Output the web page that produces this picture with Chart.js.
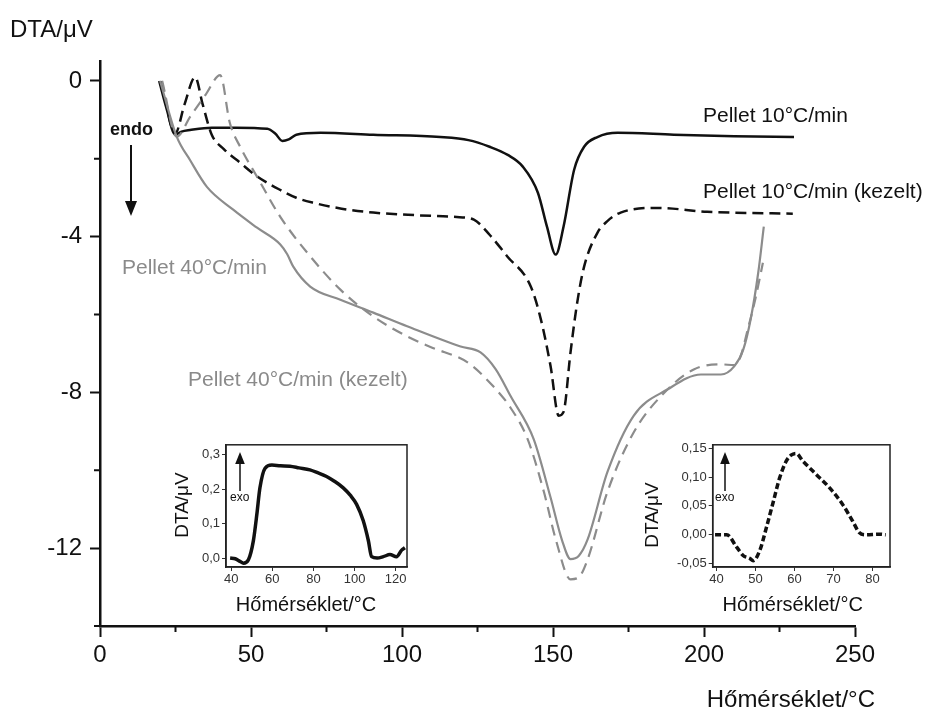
<!DOCTYPE html>
<html>
<head>
<meta charset="utf-8">
<script src="https://cdn.jsdelivr.net/npm/chart.js@4.4.1/dist/chart.umd.min.js"></script>
<style>
  body { margin: 0; background: #fff; }
  #wrap { position: relative; width: 941px; height: 713px; }
  canvas { position: absolute; }
</style>
</head>
<body>
<div id="wrap">
  <canvas id="mainChart" width="941" height="713" style="left:0;top:0"></canvas>
  <canvas id="inset1" width="270" height="185" style="left:150px;top:435px"></canvas>
  <canvas id="inset2" width="270" height="185" style="left:640px;top:435px"></canvas>
</div>
<script>
// main chart: temperature (°C) and DTA (µV) per curve
var t10 = [19.6, 22, 24.9, 27, 29.8, 37, 45, 55.4, 58, 60.4, 62.5, 65, 73, 90.5, 112.7, 122, 129, 135, 140, 145, 148, 150.9, 153.5, 157, 160.3, 164.7, 171.4, 190, 210, 229.8];
var dta10 = [0, -0.7, -1.38, -1.3, -1.26, -1.2, -1.2, -1.23, -1.35, -1.54, -1.5, -1.38, -1.33, -1.38, -1.44, -1.52, -1.69, -1.9, -2.2, -2.87, -3.74, -4.46, -3.74, -2.28, -1.69, -1.44, -1.33, -1.38, -1.42, -1.44];

var t10k = [20.3, 24.9, 28, 31.5, 34, 37, 41, 46.4, 52, 59.7, 65, 70.7, 80, 90.5, 105, 119, 123.8, 129, 134.8, 142.6, 146, 149.2, 151.9, 153.5, 155.8, 158, 160.3, 164.7, 168, 172.4, 184.6, 201, 229.4];
var dta10k = [0, -1.35, -0.6, 0.1, -0.6, -1.38, -1.75, -2.1, -2.45, -2.8, -3.0, -3.13, -3.28, -3.38, -3.45, -3.5, -3.56, -3.95, -4.5, -5.27, -6.13, -7.33, -8.6, -8.5, -6.97, -5.7, -4.77, -3.9, -3.6, -3.38, -3.26, -3.36, -3.41];

var t40 = [19.9, 25.4, 29.8, 35.4, 44, 52, 59.7, 62, 64, 69.6, 79.6, 90.5, 101.7, 119.4, 126, 131, 136, 143.6, 149.2, 153, 155.8, 158.5, 161.5, 168, 176.7, 188, 199, 205.6, 210, 213, 215.5, 218, 219.8];
var dta40 = [0, -1.43, -2.03, -2.72, -3.3, -3.77, -4.2, -4.45, -4.77, -5.28, -5.62, -5.95, -6.3, -6.82, -6.97, -7.4, -8.1, -9.2, -10.7, -11.8, -12.28, -12.2, -11.77, -10.05, -8.6, -7.92, -7.54, -7.54, -7.33, -6.9, -6.1, -4.9, -3.74];

var t40k = [20.6, 25.4, 30, 35, 39.8, 43, 46.4, 52, 59.7, 68.6, 79.6, 90.5, 101.7, 110, 121.7, 130.3, 136, 141.6, 147, 151, 155.8, 158.5, 161.5, 168, 176.7, 185.7, 196.6, 205.6, 210, 212, 214.5, 217, 219.5];
var dta40k = [0, -1.43, -0.9, -0.35, 0.15, -1.08, -1.69, -2.46, -3.49, -4.41, -5.36, -6.05, -6.56, -6.85, -7.23, -7.85, -8.4, -9.2, -10.56, -11.8, -12.8, -12.75, -12.28, -10.56, -9.03, -8.1, -7.41, -7.28, -7.3, -7.1, -6.38, -5.6, -4.67];

var xTicks = [0, 50, 100, 150, 200, 250];
var xMinor = [25, 75, 125, 175, 225];
var yTicks = [-12, -8, -4, 0];
var yMinor = [-14, -10, -6, -2];

// inset 1: 10°C/min exo peak
var tIn1 = [39.5, 42, 44.4, 46, 48.4, 50.8, 52.5, 54, 56.5, 59.8, 64, 68.6, 73, 78.3, 82, 86.4, 90, 94.5, 98, 101, 104.2, 106.7, 108.3, 111, 114, 117.2, 120.4, 122.9, 124.5];
var dtaIn1 = [0.0, -0.002, -0.01, -0.015, -0.005, 0.05, 0.127, 0.204, 0.261, 0.27, 0.268, 0.267, 0.262, 0.256, 0.248, 0.237, 0.224, 0.204, 0.182, 0.156, 0.109, 0.051, 0.004, 0.0, 0.004, 0.01, 0.004, 0.023, 0.03];
var in1XTicks = [40, 60, 80, 100, 120];
var in1YTicks = [0, 0.1, 0.2, 0.3];

// inset 2: 10°C/min (kezelt) exo peak
var tIn2 = [39.6, 42.6, 45.1, 46.8, 48.5, 49.4, 51.1, 52.8, 54.5, 56.2, 57.9, 59.1, 60.4, 62.1, 65.5, 68.9, 72.3, 74.8, 76.6, 78.3, 81.7, 83.4];
var dtaIn2 = [0.0, 0.0, -0.021, -0.036, -0.041, -0.045, -0.027, 0.013, 0.056, 0.099, 0.128, 0.138, 0.141, 0.128, 0.105, 0.082, 0.053, 0.025, 0.004, 0.0, 0.001, 0.0];
var in2XTicks = [40, 50, 60, 70, 80];
var in2YTicks = [-0.05, 0, 0.05, 0.1, 0.15];

var BLACK = '#111';
var GREY = '#8c8c8c';
var FONT = 'Arial, "Liberation Sans", sans-serif';
Chart.defaults.font.family = FONT;

function toPoints(xs, ys) {
    return xs.map(function (x, i) { return {x: x, y: ys[i]}; });
}

function fixedTicks(vals) {
    return function (scale) {
        scale.ticks = vals.map(function (v) { return {value: v}; });
    };
}

function drawArrow(ctx, a) {
    ctx.strokeStyle = BLACK;
    ctx.fillStyle = BLACK;
    ctx.lineWidth = a.width;
    var dir = a.y1 > a.y0 ? 1 : -1;
    ctx.beginPath();
    ctx.moveTo(a.x, a.y0);
    ctx.lineTo(a.x, a.y1 - dir * a.head);
    ctx.stroke();
    ctx.beginPath();
    ctx.moveTo(a.x - a.head * 0.4, a.y1 - dir * a.head);
    ctx.lineTo(a.x + a.head * 0.4, a.y1 - dir * a.head);
    ctx.lineTo(a.x, a.y1);
    ctx.closePath();
    ctx.fill();
}

// free text and arrows drawn on top of a chart
function textPlugin(items, arrows) {
    return {
        id: 'freeText',
        afterDraw: function (chart) {
            var ctx = chart.ctx;
            ctx.save();
            items.forEach(function (it) {
                ctx.font = it.font;
                ctx.fillStyle = it.color || BLACK;
                ctx.textAlign = it.align || 'left';
                ctx.textBaseline = 'middle';
                ctx.save();
                ctx.translate(it.x, it.y);
                if (it.rotate) ctx.rotate(it.rotate);
                ctx.fillText(it.text, 0, 0);
                ctx.restore();
            });
            arrows.forEach(function (a) { drawArrow(ctx, a); });
            ctx.restore();
        }
    };
}

var minorTicks = {
    id: 'minorTicks',
    afterDraw: function (chart) {
        var ctx = chart.ctx, x = chart.scales.x, y = chart.scales.y;
        ctx.save();
        ctx.strokeStyle = BLACK;
        ctx.lineWidth = 2;
        ctx.beginPath();
        xMinor.forEach(function (v) {
            var px = x.getPixelForValue(v);
            ctx.moveTo(px, x.top);
            ctx.lineTo(px, x.top + 6);
        });
        yMinor.forEach(function (v) {
            var py = y.getPixelForValue(v);
            ctx.moveTo(y.right - 6, py);
            ctx.lineTo(y.right, py);
        });
        ctx.stroke();
        ctx.restore();
    }
};

var frameBox = {
    id: 'frameBox',
    afterDraw: function (chart) {
        var a = chart.chartArea, ctx = chart.ctx;
        ctx.save();
        ctx.strokeStyle = '#222';
        ctx.lineWidth = 1.5;
        ctx.strokeRect(a.left, a.top, a.right - a.left, a.bottom - a.top);
        ctx.restore();
    }
};

function drawMainChart() {
    var ctx = document.getElementById('mainChart');
    var labelFont = '21px ' + FONT;
    new Chart(ctx, {
        type: 'line',
        data: {
            datasets: [{
                label: 'Pellet 40°C/min (kezelt)',
                data: toPoints(t40k, dta40k),
                borderColor: GREY, borderWidth: 2.2, borderDash: [11, 7]
            }, {
                label: 'Pellet 40°C/min',
                data: toPoints(t40, dta40),
                borderColor: GREY, borderWidth: 2.2
            }, {
                label: 'Pellet 10°C/min (kezelt)',
                data: toPoints(t10k, dta10k),
                borderColor: BLACK, borderWidth: 2.5, borderDash: [11, 6]
            }, {
                label: 'Pellet 10°C/min',
                data: toPoints(t10, dta10),
                borderColor: BLACK, borderWidth: 2.5
            }]
        },
        options: {
            responsive: false,
            animation: false,
            cubicInterpolationMode: 'monotone',
            elements: {point: {radius: 0}},
            layout: {padding: {left: 0, top: 61.5, right: 86, bottom: 0}},
            plugins: {legend: {display: false}, tooltip: {enabled: false}},
            scales: {
                x: {
                    type: 'linear', min: 0, max: 250,
                    afterBuildTicks: fixedTicks(xTicks),
                    afterFit: function (s) { s.height = 87; },
                    ticks: {font: {size: 24}, color: BLACK, padding: 4, maxRotation: 0},
                    grid: {drawOnChartArea: false, tickLength: 11, tickWidth: 2, color: BLACK},
                    border: {color: BLACK, width: 2.5}
                },
                y: {
                    type: 'linear', min: -14, max: 0.5,
                    afterBuildTicks: fixedTicks(yTicks),
                    afterFit: function (s) { s.width = 100; },
                    ticks: {font: {size: 24}, color: BLACK, padding: 8},
                    grid: {drawOnChartArea: false, tickLength: 10, tickWidth: 2, color: BLACK},
                    border: {color: BLACK, width: 2.5}
                }
            }
        },
        plugins: [minorTicks, textPlugin([
            {text: 'DTA/\u03bcV', x: 10, y: 30, font: '24px ' + FONT},
            {text: 'Hőmérséklet/°C', x: 875, y: 700, font: '24px ' + FONT, align: 'right'},
            {text: 'endo', x: 110, y: 130, font: 'bold 18px ' + FONT},
            {text: 'Pellet 10°C/min', x: 703, y: 116, font: labelFont},
            {text: 'Pellet 10°C/min (kezelt)', x: 703, y: 192, font: labelFont},
            {text: 'Pellet 40°C/min', x: 122, y: 268, font: labelFont, color: '#8a8a8a'},
            {text: 'Pellet 40°C/min (kezelt)', x: 188, y: 380, font: labelFont, color: '#8a8a8a'}
        ], [
            {x: 131, y0: 145, y1: 216, head: 15, width: 2}
        ])]
    });
}

function drawInset(id, xs, ys, dash, xMin, xMax, yMin, yMax, xTickVals, yTickVals, digits, yAxisW, padTop, padRight, titleX, titleY, arrowX) {
    var ctx = document.getElementById(id);
    new Chart(ctx, {
        type: 'line',
        data: {
            datasets: [{
                data: toPoints(xs, ys),
                borderColor: BLACK, borderWidth: 3.5, borderDash: dash
            }]
        },
        options: {
            responsive: false,
            animation: false,
            cubicInterpolationMode: 'monotone',
            elements: {point: {radius: 0}},
            layout: {padding: {left: 0, top: padTop, right: padRight, bottom: 0}},
            plugins: {legend: {display: false}, tooltip: {enabled: false}},
            scales: {
                x: {
                    type: 'linear', min: xMin, max: xMax,
                    afterBuildTicks: fixedTicks(xTickVals),
                    afterFit: function (s) { s.height = 185 - 132; },
                    ticks: {font: {size: 13}, color: '#333', padding: 1, maxRotation: 0},
                    grid: {drawOnChartArea: false, tickLength: 4, color: '#333'},
                    border: {color: '#222', width: 1.5}
                },
                y: {
                    type: 'linear', min: yMin, max: yMax,
                    afterBuildTicks: fixedTicks(yTickVals),
                    afterFit: function (s) { s.width = yAxisW; },
                    ticks: {
                        font: {size: 13}, color: '#333', padding: 2,
                        callback: function (v) { return v.toFixed(digits).replace('.', ','); }
                    },
                    grid: {drawOnChartArea: false, tickLength: 4, color: '#333'},
                    border: {color: '#222', width: 1.5}
                }
            }
        },
        plugins: [frameBox, textPlugin([
            {text: 'DTA/\u03bcV', x: titleX, y: titleY, font: '19px ' + FONT, align: 'center', rotate: -Math.PI / 2},
            {text: 'Hőmérséklet/°C', x: yAxisW + 80, y: 170, font: '20px ' + FONT, align: 'center'},
            {text: 'exo', x: arrowX - 10, y: 63, font: '12px ' + FONT}
        ], [
            {x: arrowX, y0: 56, y1: 17, head: 12, width: 1.5}
        ])]
    });
}

drawMainChart();
drawInset('inset1', tIn1, dtaIn1, [], 37.5, 125.5, -0.026, 0.329, in1XTicks, in1YTicks, 1, 76, 8, 13, 33, 70, 90);
drawInset('inset2', tIn2, dtaIn2, [6, 3], 39, 84.5, -0.056, 0.156, in2XTicks, in2YTicks, 2, 72.7, 9, 20, 13, 80, 85);
</script>
</body>
</html>
